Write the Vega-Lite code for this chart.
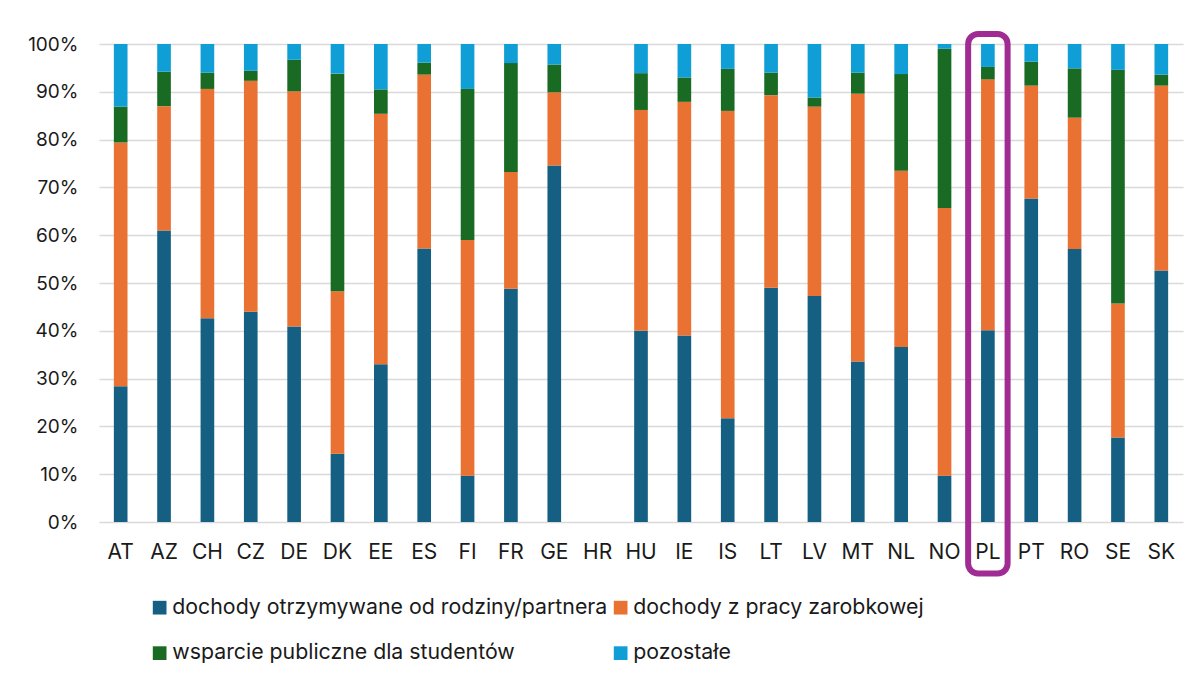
{
  "$schema": "https://vega.github.io/schema/vega-lite/v6.json",
  "width": 1084,
  "height": 478,
  "autosize": "none",
  "padding": {"left": 99, "top": 44, "right": 17, "bottom": 154},
  "background": "#ffffff",
  "config": {"view": {"stroke": null}, "font": "Inter"},
  "datasets": {
    "udzialy": [
      {"kraj": "AT", "zrodlo": "dochody otrzymywane od rodziny/partnera", "kol": 1, "udzial": 28.4},
      {"kraj": "AT", "zrodlo": "dochody z pracy zarobkowej", "kol": 2, "udzial": 51.0},
      {"kraj": "AT", "zrodlo": "wsparcie publiczne dla studentów", "kol": 3, "udzial": 7.5},
      {"kraj": "AT", "zrodlo": "pozostałe", "kol": 4, "udzial": 13.1},
      {"kraj": "AZ", "zrodlo": "dochody otrzymywane od rodziny/partnera", "kol": 1, "udzial": 61.0},
      {"kraj": "AZ", "zrodlo": "dochody z pracy zarobkowej", "kol": 2, "udzial": 26.0},
      {"kraj": "AZ", "zrodlo": "wsparcie publiczne dla studentów", "kol": 3, "udzial": 7.2},
      {"kraj": "AZ", "zrodlo": "pozostałe", "kol": 4, "udzial": 5.8},
      {"kraj": "CH", "zrodlo": "dochody otrzymywane od rodziny/partnera", "kol": 1, "udzial": 42.6},
      {"kraj": "CH", "zrodlo": "dochody z pracy zarobkowej", "kol": 2, "udzial": 48.0},
      {"kraj": "CH", "zrodlo": "wsparcie publiczne dla studentów", "kol": 3, "udzial": 3.4},
      {"kraj": "CH", "zrodlo": "pozostałe", "kol": 4, "udzial": 6.0},
      {"kraj": "CZ", "zrodlo": "dochody otrzymywane od rodziny/partnera", "kol": 1, "udzial": 44.0},
      {"kraj": "CZ", "zrodlo": "dochody z pracy zarobkowej", "kol": 2, "udzial": 48.3},
      {"kraj": "CZ", "zrodlo": "wsparcie publiczne dla studentów", "kol": 3, "udzial": 2.1},
      {"kraj": "CZ", "zrodlo": "pozostałe", "kol": 4, "udzial": 5.6},
      {"kraj": "DE", "zrodlo": "dochody otrzymywane od rodziny/partnera", "kol": 1, "udzial": 40.9},
      {"kraj": "DE", "zrodlo": "dochody z pracy zarobkowej", "kol": 2, "udzial": 49.2},
      {"kraj": "DE", "zrodlo": "wsparcie publiczne dla studentów", "kol": 3, "udzial": 6.6},
      {"kraj": "DE", "zrodlo": "pozostałe", "kol": 4, "udzial": 3.3},
      {"kraj": "DK", "zrodlo": "dochody otrzymywane od rodziny/partnera", "kol": 1, "udzial": 14.3},
      {"kraj": "DK", "zrodlo": "dochody z pracy zarobkowej", "kol": 2, "udzial": 34.0},
      {"kraj": "DK", "zrodlo": "wsparcie publiczne dla studentów", "kol": 3, "udzial": 45.5},
      {"kraj": "DK", "zrodlo": "pozostałe", "kol": 4, "udzial": 6.2},
      {"kraj": "EE", "zrodlo": "dochody otrzymywane od rodziny/partnera", "kol": 1, "udzial": 33.0},
      {"kraj": "EE", "zrodlo": "dochody z pracy zarobkowej", "kol": 2, "udzial": 52.4},
      {"kraj": "EE", "zrodlo": "wsparcie publiczne dla studentów", "kol": 3, "udzial": 5.1},
      {"kraj": "EE", "zrodlo": "pozostałe", "kol": 4, "udzial": 9.5},
      {"kraj": "ES", "zrodlo": "dochody otrzymywane od rodziny/partnera", "kol": 1, "udzial": 57.2},
      {"kraj": "ES", "zrodlo": "dochody z pracy zarobkowej", "kol": 2, "udzial": 36.4},
      {"kraj": "ES", "zrodlo": "wsparcie publiczne dla studentów", "kol": 3, "udzial": 2.5},
      {"kraj": "ES", "zrodlo": "pozostałe", "kol": 4, "udzial": 3.9},
      {"kraj": "FI", "zrodlo": "dochody otrzymywane od rodziny/partnera", "kol": 1, "udzial": 9.7},
      {"kraj": "FI", "zrodlo": "dochody z pracy zarobkowej", "kol": 2, "udzial": 49.3},
      {"kraj": "FI", "zrodlo": "wsparcie publiczne dla studentów", "kol": 3, "udzial": 31.6},
      {"kraj": "FI", "zrodlo": "pozostałe", "kol": 4, "udzial": 9.4},
      {"kraj": "FR", "zrodlo": "dochody otrzymywane od rodziny/partnera", "kol": 1, "udzial": 48.8},
      {"kraj": "FR", "zrodlo": "dochody z pracy zarobkowej", "kol": 2, "udzial": 24.4},
      {"kraj": "FR", "zrodlo": "wsparcie publiczne dla studentów", "kol": 3, "udzial": 22.8},
      {"kraj": "FR", "zrodlo": "pozostałe", "kol": 4, "udzial": 4.0},
      {"kraj": "GE", "zrodlo": "dochody otrzymywane od rodziny/partnera", "kol": 1, "udzial": 74.6},
      {"kraj": "GE", "zrodlo": "dochody z pracy zarobkowej", "kol": 2, "udzial": 15.3},
      {"kraj": "GE", "zrodlo": "wsparcie publiczne dla studentów", "kol": 3, "udzial": 5.8},
      {"kraj": "GE", "zrodlo": "pozostałe", "kol": 4, "udzial": 4.3},
      {"kraj": "HU", "zrodlo": "dochody otrzymywane od rodziny/partnera", "kol": 1, "udzial": 40.0},
      {"kraj": "HU", "zrodlo": "dochody z pracy zarobkowej", "kol": 2, "udzial": 46.2},
      {"kraj": "HU", "zrodlo": "wsparcie publiczne dla studentów", "kol": 3, "udzial": 7.7},
      {"kraj": "HU", "zrodlo": "pozostałe", "kol": 4, "udzial": 6.1},
      {"kraj": "IE", "zrodlo": "dochody otrzymywane od rodziny/partnera", "kol": 1, "udzial": 39.0},
      {"kraj": "IE", "zrodlo": "dochody z pracy zarobkowej", "kol": 2, "udzial": 48.9},
      {"kraj": "IE", "zrodlo": "wsparcie publiczne dla studentów", "kol": 3, "udzial": 5.1},
      {"kraj": "IE", "zrodlo": "pozostałe", "kol": 4, "udzial": 7.0},
      {"kraj": "IS", "zrodlo": "dochody otrzymywane od rodziny/partnera", "kol": 1, "udzial": 21.7},
      {"kraj": "IS", "zrodlo": "dochody z pracy zarobkowej", "kol": 2, "udzial": 64.3},
      {"kraj": "IS", "zrodlo": "wsparcie publiczne dla studentów", "kol": 3, "udzial": 8.8},
      {"kraj": "IS", "zrodlo": "pozostałe", "kol": 4, "udzial": 5.2},
      {"kraj": "LT", "zrodlo": "dochody otrzymywane od rodziny/partnera", "kol": 1, "udzial": 49.0},
      {"kraj": "LT", "zrodlo": "dochody z pracy zarobkowej", "kol": 2, "udzial": 40.3},
      {"kraj": "LT", "zrodlo": "wsparcie publiczne dla studentów", "kol": 3, "udzial": 4.7},
      {"kraj": "LT", "zrodlo": "pozostałe", "kol": 4, "udzial": 6.0},
      {"kraj": "LV", "zrodlo": "dochody otrzymywane od rodziny/partnera", "kol": 1, "udzial": 47.3},
      {"kraj": "LV", "zrodlo": "dochody z pracy zarobkowej", "kol": 2, "udzial": 39.6},
      {"kraj": "LV", "zrodlo": "wsparcie publiczne dla studentów", "kol": 3, "udzial": 1.9},
      {"kraj": "LV", "zrodlo": "pozostałe", "kol": 4, "udzial": 11.2},
      {"kraj": "MT", "zrodlo": "dochody otrzymywane od rodziny/partnera", "kol": 1, "udzial": 33.6},
      {"kraj": "MT", "zrodlo": "dochody z pracy zarobkowej", "kol": 2, "udzial": 56.0},
      {"kraj": "MT", "zrodlo": "wsparcie publiczne dla studentów", "kol": 3, "udzial": 4.4},
      {"kraj": "MT", "zrodlo": "pozostałe", "kol": 4, "udzial": 6.0},
      {"kraj": "NL", "zrodlo": "dochody otrzymywane od rodziny/partnera", "kol": 1, "udzial": 36.6},
      {"kraj": "NL", "zrodlo": "dochody z pracy zarobkowej", "kol": 2, "udzial": 36.9},
      {"kraj": "NL", "zrodlo": "wsparcie publiczne dla studentów", "kol": 3, "udzial": 20.2},
      {"kraj": "NL", "zrodlo": "pozostałe", "kol": 4, "udzial": 6.3},
      {"kraj": "NO", "zrodlo": "dochody otrzymywane od rodziny/partnera", "kol": 1, "udzial": 9.7},
      {"kraj": "NO", "zrodlo": "dochody z pracy zarobkowej", "kol": 2, "udzial": 56.0},
      {"kraj": "NO", "zrodlo": "wsparcie publiczne dla studentów", "kol": 3, "udzial": 33.3},
      {"kraj": "NO", "zrodlo": "pozostałe", "kol": 4, "udzial": 1.0},
      {"kraj": "PL", "zrodlo": "dochody otrzymywane od rodziny/partnera", "kol": 1, "udzial": 40.1},
      {"kraj": "PL", "zrodlo": "dochody z pracy zarobkowej", "kol": 2, "udzial": 52.5},
      {"kraj": "PL", "zrodlo": "wsparcie publiczne dla studentów", "kol": 3, "udzial": 2.6},
      {"kraj": "PL", "zrodlo": "pozostałe", "kol": 4, "udzial": 4.8},
      {"kraj": "PT", "zrodlo": "dochody otrzymywane od rodziny/partnera", "kol": 1, "udzial": 67.7},
      {"kraj": "PT", "zrodlo": "dochody z pracy zarobkowej", "kol": 2, "udzial": 23.6},
      {"kraj": "PT", "zrodlo": "wsparcie publiczne dla studentów", "kol": 3, "udzial": 5.0},
      {"kraj": "PT", "zrodlo": "pozostałe", "kol": 4, "udzial": 3.7},
      {"kraj": "RO", "zrodlo": "dochody otrzymywane od rodziny/partnera", "kol": 1, "udzial": 57.1},
      {"kraj": "RO", "zrodlo": "dochody z pracy zarobkowej", "kol": 2, "udzial": 27.5},
      {"kraj": "RO", "zrodlo": "wsparcie publiczne dla studentów", "kol": 3, "udzial": 10.3},
      {"kraj": "RO", "zrodlo": "pozostałe", "kol": 4, "udzial": 5.1},
      {"kraj": "SE", "zrodlo": "dochody otrzymywane od rodziny/partnera", "kol": 1, "udzial": 17.7},
      {"kraj": "SE", "zrodlo": "dochody z pracy zarobkowej", "kol": 2, "udzial": 28.0},
      {"kraj": "SE", "zrodlo": "wsparcie publiczne dla studentów", "kol": 3, "udzial": 48.9},
      {"kraj": "SE", "zrodlo": "pozostałe", "kol": 4, "udzial": 5.4},
      {"kraj": "SK", "zrodlo": "dochody otrzymywane od rodziny/partnera", "kol": 1, "udzial": 52.6},
      {"kraj": "SK", "zrodlo": "dochody z pracy zarobkowej", "kol": 2, "udzial": 38.7},
      {"kraj": "SK", "zrodlo": "wsparcie publiczne dla studentów", "kol": 3, "udzial": 2.3},
      {"kraj": "SK", "zrodlo": "pozostałe", "kol": 4, "udzial": 6.4}
    ],
    "wyroznienie": [
      {"kraj": "PL", "gora": 102.1, "dol": -10.8}
    ]
  },
  "layer": [
    {
      "data": {"name": "udzialy"},
      "mark": {"type": "bar", "width": {"band": 0.315}},
      "encoding": {
        "x": {
          "field": "kraj",
          "type": "nominal",
          "scale": {
            "domain": ["AT", "AZ", "CH", "CZ", "DE", "DK", "EE", "ES", "FI", "FR", "GE", "HR", "HU", "IE", "IS", "LT", "LV", "MT", "NL", "NO", "PL", "PT", "RO", "SE", "SK"],
            "paddingInner": 0,
            "paddingOuter": 0
          },
          "axis": {
            "title": null,
            "labelAngle": 0,
            "domain": false,
            "ticks": false,
            "labelPadding": 19,
            "labelFontSize": 21,
            "labelColor": "#1a1a1a"
          }
        },
        "y": {
          "field": "udzial",
          "type": "quantitative",
          "stack": "zero",
          "scale": {"domain": [0, 100], "nice": false},
          "axis": {
            "title": null,
            "values": [0, 10, 20, 30, 40, 50, 60, 70, 80, 90, 100],
            "labelExpr": "datum.value + '%'",
            "domain": false,
            "ticks": false,
            "grid": true,
            "gridColor": "#d9d9d9",
            "gridWidth": 1.5,
            "labelPadding": 21,
            "labelFontSize": 19,
            "labelColor": "#1a1a1a"
          }
        },
        "color": {
          "field": "zrodlo",
          "type": "nominal",
          "scale": {
            "domain": ["dochody otrzymywane od rodziny/partnera", "dochody z pracy zarobkowej", "wsparcie publiczne dla studentów", "pozostałe"],
            "range": ["#156082", "#E97132", "#196B24", "#0F9ED5"]
          },
          "legend": {
            "title": null,
            "orient": "none",
            "legendX": 50,
            "legendY": 553,
            "direction": "horizontal",
            "columns": 2,
            "padding": 0,
            "symbolType": "square",
            "symbolSize": 188,
            "symbolStrokeWidth": 0,
            "symbolOpacity": 1,
            "labelFontSize": 21.3,
            "labelColor": "#1a1a1a",
            "labelOffset": 2,
            "labelLimit": 600,
            "columnPadding": 2,
            "rowPadding": 23.5
          }
        },
        "order": {"field": "kol", "type": "quantitative"}
      }
    },
    {
      "data": {"name": "wyroznienie"},
      "mark": {
        "type": "bar",
        "width": {"band": 0.91},
        "fill": null,
        "stroke": "#A02B93",
        "strokeWidth": 6,
        "cornerRadius": 10,
        "clip": false
      },
      "encoding": {
        "x": {"field": "kraj", "type": "nominal"},
        "y": {"field": "gora", "type": "quantitative"},
        "y2": {"field": "dol"}
      }
    }
  ]
}
